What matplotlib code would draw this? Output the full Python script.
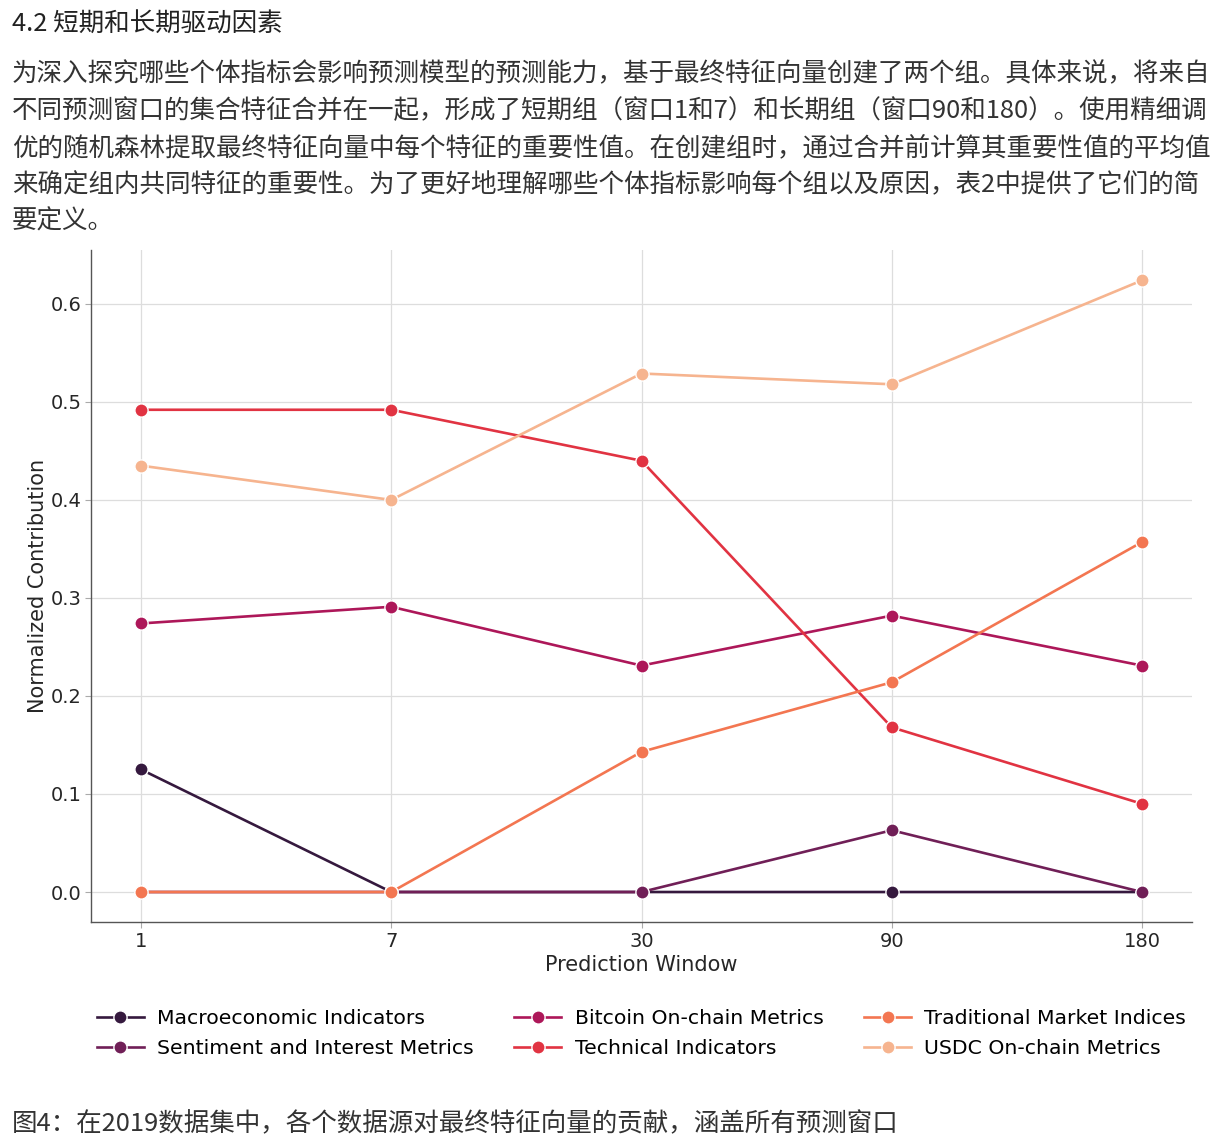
import matplotlib
matplotlib.use("Agg")
import matplotlib.pyplot as plt
import seaborn as sns

# data
windows = ["1", "7", "30", "90", "180"]
series_names = [
    "Macroeconomic Indicators",
    "Sentiment and Interest Metrics",
    "Bitcoin On-chain Metrics",
    "Technical Indicators",
    "Traditional Market Indices",
    "USDC On-chain Metrics",
]
macro = [0.125, 0.0, 0.0, 0.0, 0.0]
sentiment = [0.0, 0.0, 0.0, 0.063, 0.0]
bitcoin = [0.274, 0.291, 0.231, 0.282, 0.231]
technical = [0.492, 0.492, 0.440, 0.168, 0.090]
traditional = [0.0, 0.0, 0.143, 0.214, 0.357]
usdc = [0.435, 0.400, 0.529, 0.518, 0.624]

heading = "4.2 短期和长期驱动因素"
body_lines = [
    "为深入探究哪些个体指标会影响预测模型的预测能力，基于最终特征向量创建了两个组。具体来说，将来自",
    "不同预测窗口的集合特征合并在一起，形成了短期组（窗口1和7）和长期组（窗口90和180）。使用精细调",
    "优的随机森林提取最终特征向量中每个特征的重要性值。在创建组时，通过合并前计算其重要性值的平均值",
    "来确定组内共同特征的重要性。为了更好地理解哪些个体指标影响每个组以及原因，表2中提供了它们的简",
    "要定义。",
]
caption = "图4：在2019数据集中，各个数据源对最终特征向量的贡献，涵盖所有预测窗口"

CJK = ["Noto Sans CJK SC", "DejaVu Sans"]
TEXT_COLOR = "#333333"

fig = plt.figure(figsize=(12.12, 11.43), dpi=100)
fig.patch.set_facecolor("white")

# document text around the chart
fig.text(12 / 1212, 1 - 25 / 1143, heading, family=CJK, fontsize=18.4,
         color="#222222", ha="left", va="center")
for i, line in enumerate(body_lines):
    y = 74 + 37 * i
    fig.text(12 / 1212, 1 - y / 1143, line, family=CJK, fontsize=18.4,
             color=TEXT_COLOR, ha="left", va="center")
fig.text(12 / 1212, 1 - 1124 / 1143, caption, family=CJK, fontsize=18.4,
         color=TEXT_COLOR, ha="left", va="center")

# chart
ax = fig.add_axes([91 / 1212, 1 - 922 / 1143, 1101 / 1212, 672 / 1143])
colors = sns.color_palette("rocket", 6)
all_series = [macro, sentiment, bitcoin, technical, traditional, usdc]
xs = range(len(windows))
for name, vals, c in zip(series_names, all_series, colors):
    ax.plot(xs, vals, color=c, lw=1.9, marker="o", markersize=9.5,
            markeredgecolor="white", markeredgewidth=1.0, label=name)

ax.set_xticks(list(xs))
ax.set_xticklabels(windows)
ax.set_xlim(-0.2, 4.2)
ax.set_ylim(-0.0306, 0.655)
ax.set_yticks([0.0, 0.1, 0.2, 0.3, 0.4, 0.5, 0.6])
ax.tick_params(labelsize=14, labelcolor="#262626", color="#aaaaaa",
               length=4, width=0.8, pad=3)
ax.grid(True, color="#dddddd", lw=0.9)
ax.set_axisbelow(True)
for side in ["top", "right"]:
    ax.spines[side].set_visible(False)
for side in ["left", "bottom"]:
    ax.spines[side].set_color("#555555")
    ax.spines[side].set_linewidth(1.0)

ax.set_xlabel("Prediction Window", fontsize=15, color="#262626", labelpad=3)
ax.set_ylabel("Normalized Contribution", fontsize=15, color="#262626", labelpad=2)

ax.legend(loc="center", bbox_to_anchor=(0.5, -0.166), ncol=3, frameon=False,
          fontsize=14.7, handlelength=2.3, handletextpad=0.65, columnspacing=2.0,
          labelspacing=0.55)

fig.savefig("out.png", dpi=100, facecolor="white")
